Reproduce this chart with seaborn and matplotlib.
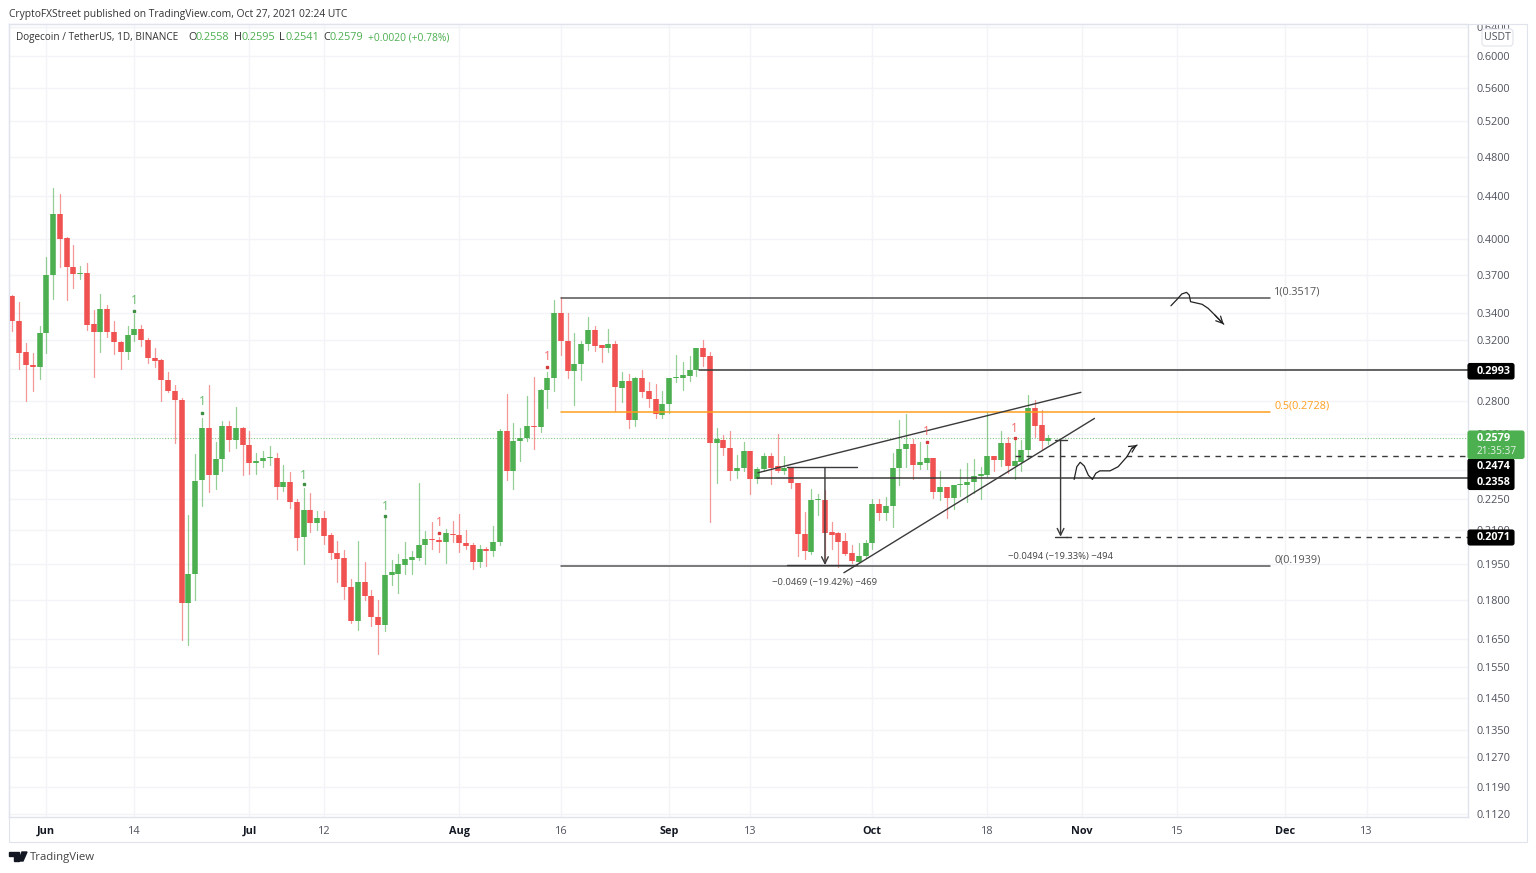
"""Dogecoin / TetherUS daily candles with a rising wedge, TradingView look."""

import matplotlib.pyplot as plt
import pandas as pd
import seaborn as sns
from matplotlib.patches import FancyBboxPatch, Polygon, Rectangle
from matplotlib.ticker import NullFormatter

W, H = 1536, 873
GREEN = "#4caf50"
RED = "#f05252"
DARK = "#3a3a3a"
GRID = "#f3f4f8"
BORDER = "#e0e3eb"
ORANGE = "#ff9f1c"
FONT = "Open Sans"

FIRST_DAY = "2021-05-27"
RIGHT_EDGE = 209.9

opens = [
    .3529, .3341, .3115, .3029, .3017, .3254, .3697, .4232, .4010, .3763,
    .3708, .3711, .3317, .3259, .3429, .3259, .3187, .3119, .3235, .3278,
    .3203, .3076, .3060, .2928, .2857, .2803, .1787, .1906, .2347, .2635,
    .2372, .2458, .2646, .2567, .2632, .2537, .2436, .2449, .2463, .2465,
    .2310, .2340, .2236, .2069, .2197, .2134, .2159, .2078, .1998, .1975,
    .1853, .1719, .1873, .1815, .1735, .1703, .1902, .1907, .1944, .1965,
    .1976, .2032, .2060, .2055, .2046, .2084, .2078, .2041, .2031, .1959,
    .2013, .2007, .2047, .2618, .2396, .2559, .2575, .2646, .2640, .2869,
    .2941, .3401, .3196, .2989, .3035, .3175, .3273, .3164, .3145, .3175,
    .2880, .2924, .2681, .2943, .2859, .2809, .2713, .2778, .2941, .2943,
    .2958, .2993, .3143, .3091, .2548, .2565, .2523, .2395, .2411, .2504,
    .2354, .2407, .2476, .2422, .2396, .2411, .2332, .2084, .2003, .2245,
    .2246, .2092, .2086, .2049, .1998, .1960, .1984, .2040, .2225, .2184,
    .2216, .2412, .2514, .2543, .2427, .2440, .2467, .2286, .2312, .2257,
    .2321, .2321, .2337, .2370, .2373, .2474, .2452, .2546, .2422, .2445,
    .2511, .2753, .2650, .2558,
]
highs = [
    .3535, .3480, .3180, .3108, .3302, .3850, .4486, .4424, .4024, .3954,
    .3772, .3797, .3421, .3547, .3457, .3337, .3194, .3302, .3391, .3309,
    .3213, .3143, .3073, .2982, .2897, .2814, .2174, .2485, .2693, .2897,
    .2555, .2675, .2675, .2757, .2640, .2615, .2492, .2504, .2530, .2490,
    .2425, .2388, .2249, .2306, .2280, .2191, .2191, .2089, .2049, .2010,
    .1884, .2052, .1960, .1841, .1800, .2167, .1965, .1995, .2045, .2006,
    .2332, .2096, .2137, .2070, .2106, .2143, .2177, .2101, .2040, .2031,
    .2022, .2120, .2626, .2840, .2665, .2634, .2828, .2950, .2873, .2984,
    .3498, .3519, .3401, .3249, .3194, .3366, .3302, .3166, .3280, .3196,
    .2980, .2967, .2947, .2997, .2919, .2902, .2859, .2945, .3096, .3047,
    .3089, .3147, .3199, .3115, .2634, .2596, .2618, .2481, .2552, .2504,
    .2418, .2491, .2491, .2601, .2476, .2411, .2332, .2187, .2303, .2274,
    .2296, .2140, .2093, .2090, .2032, .2040, .2055, .2252, .2249, .2262,
    .2491, .2681, .2719, .2571, .2552, .2537, .2467, .2395, .2312, .2322,
    .2404, .2436, .2458, .2418, .2729, .2476, .2616, .2580, .2565, .2565,
    .2834, .2803, .2741, .2595,
]
lows = [
    .3268, .3004, .2799, .2861, .2938, .3108, .3508, .3766, .3500, .3594,
    .3666, .3273, .2948, .3119, .3225, .3106, .3000, .3073, .3194, .3161,
    .3044, .3017, .2799, .2853, .2550, .1647, .1629, .1801, .2218, .2286,
    .2301, .2395, .2504, .2520, .2373, .2380, .2380, .2416, .2429, .2252,
    .2290, .2207, .2010, .1949, .2092, .2104, .2036, .1972, .1872, .1804,
    .1710, .1685, .1801, .1699, .1596, .1681, .1862, .1827, .1907, .1907,
    .1966, .1949, .2014, .2000, .1954, .2046, .2003, .2014, .1927, .1937,
    .1941, .1984, .2032, .2347, .2303, .2447, .2561, .2513, .2612, .2751,
    .2861, .3096, .2943, .2772, .2930, .3131, .3126, .3047, .3119, .2735,
    .2791, .2637, .2646, .2823, .2761, .2695, .2695, .2721, .2919, .2865,
    .2926, .2956, .3022, .2140, .2330, .2481, .2350, .2358, .2395, .2276,
    .2330, .2396, .2325, .2391, .2379, .2305, .1985, .1973, .1995, .2172,
    .1953, .2017, .1937, .1988, .1952, .1952, .1978, .2014, .2148, .2151,
    .2116, .2321, .2414, .2354, .2404, .2404, .2257, .2246, .2158, .2200,
    .2266, .2238, .2280, .2249, .2365, .2396, .2422, .2383, .2351, .2396,
    .2458, .2584, .2516, .2541,
]
closes = [
    .3341, .3112, .3026, .3015, .3254, .3697, .4232, .4007, .3763, .3708,
    .3714, .3309, .3257, .3429, .3259, .3185, .3119, .3237, .3278, .3201,
    .3076, .3057, .2932, .2857, .2803, .1787, .1906, .2343, .2635, .2372,
    .2458, .2646, .2567, .2632, .2537, .2436, .2449, .2463, .2468, .2310,
    .2340, .2235, .2066, .2197, .2134, .2159, .2075, .1998, .1972, .1852,
    .1719, .1873, .1815, .1733, .1703, .1902, .1915, .1948, .1969, .1979,
    .2033, .2060, .2054, .2047, .2086, .2077, .2040, .2029, .1959, .2013,
    .2007, .2047, .2618, .2396, .2559, .2575, .2646, .2640, .2869, .2941,
    .3401, .3196, .2989, .3035, .3175, .3273, .3161, .3145, .3175, .2884,
    .2924, .2681, .2945, .2854, .2807, .2717, .2778, .2945, .2947, .2962,
    .2993, .3143, .3085, .2548, .2569, .2523, .2393, .2411, .2504, .2354,
    .2407, .2476, .2411, .2396, .2412, .2332, .2083, .2007, .2245, .2250,
    .2089, .2079, .2046, .1994, .1962, .1985, .2040, .2225, .2182, .2216,
    .2411, .2514, .2541, .2427, .2442, .2467, .2286, .2311, .2257, .2322,
    .2326, .2340, .2368, .2377, .2474, .2452, .2546, .2422, .2447, .2511,
    .2753, .2648, .2558, .2579,
]

y_ticks = [
    0.64, 0.60, 0.56, 0.52, 0.48, 0.44, 0.40, 0.37, 0.34, 0.32, 0.30, 0.28,
    0.26, 0.24, 0.225, 0.21, 0.195, 0.18, 0.165, 0.155, 0.145, 0.135, 0.127,
    0.119, 0.112,
]
x_tick_dates = [
    "2021-06-01", "2021-06-14", "2021-07-01", "2021-07-12", "2021-08-01",
    "2021-08-16", "2021-09-01", "2021-09-13", "2021-10-01", "2021-10-18",
    "2021-11-01", "2021-11-15", "2021-12-01", "2021-12-13",
]
x_tick_labels = [
    "Jun", "14", "Jul", "12", "Aug", "16", "Sep", "13", "Oct", "18", "Nov",
    "15", "Dec", "13",
]

# Fibonacci levels and drawn support / resistance, in prices
fib_levels = [0.3517, 0.2728, 0.1939]
fib_labels = ["1(0.3517)", "0.5(0.2728)", "0(0.1939)"]
fib_colors = ["#555555", ORANGE, "#555555"]
last_price = 0.2579
level_2993 = 0.2993
level_2474 = 0.2474
level_2358 = 0.2358
level_2071 = 0.2071

# Wedge lines and hand drawn arrows as (day offset from Jun 1, price)
wedge_upper = [(105.1, 0.2386), (152.8, 0.2851)]
wedge_lower = [(117.8, 0.1912), (154.8, 0.2691)]
sketch_up = [
    (151.8, .2351), (152.2, .2418), (152.7, .2442), (153.3, .2422),
    (153.9, .2373), (154.5, .2351), (155.0, .2383), (155.6, .2396),
    (157.1, .2396), (158.3, .2418), (159.6, .2472), (160.3, .2518),
    (161.1, .2537),
]
sketch_down = [
    (166.1, .3454), (167.0, .3503), (167.7, .3545), (168.4, .3558),
    (168.8, .3537), (169.0, .3485), (169.7, .3477), (170.7, .3465),
    (171.6, .3434), (172.6, .3383), (173.9, .3315),
]

# TD sequential style "1" marks: day offset, price of the digit, price of the dot
green_marks = [(13, .3491, .3413), (23, .2793, .2726), (38, .2373, .2326), (50, .2216, .2169)]
red_marks = [(58, .2135, .2090), (74, .3089, .3017), (130, .2612, .2555), (143, .2634, .2579)]


def day(offset):
    return pd.Timestamp("2021-06-01") + pd.Timedelta(days=offset)


def fig_xy(x, y):
    """Pixel position in the reference, y going down, to figure fraction."""
    return x / W, 1 - y / H


def add_box(fig, x0, y0, x1, y1, color, edge=None, zorder=2, round_px=0):
    xy = fig_xy(x0, y1)
    w, h = (x1 - x0) / W, (y1 - y0) / H
    if round_px:
        patch = FancyBboxPatch(
            xy, w, h, boxstyle=f"round,pad=0,rounding_size={round_px / W}",
            facecolor=color, edgecolor=edge or color, linewidth=0.8,
            transform=fig.transFigure, zorder=zorder, mutation_aspect=W / H,
        )
    else:
        patch = Rectangle(
            xy, w, h, facecolor=color, edgecolor=edge or color, linewidth=0.8,
            transform=fig.transFigure, zorder=zorder,
        )
    fig.add_artist(patch)


def hline(ax, start, level, end, **kwargs):
    ax.plot([day(start), day(end)], [level, level], **kwargs)


def draw_candles(ax):
    dates = pd.date_range(FIRST_DAY, periods=len(opens), freq="D")
    candles = pd.DataFrame(
        {"date": dates, "open": opens, "high": highs, "low": lows, "close": closes}
    )
    candles["side"] = ["up" if c >= o else "down" for o, c in zip(opens, closes)]
    palette = {"up": GREEN, "down": RED}

    wicks = candles.melt(
        id_vars=["date", "side"], value_vars=["high", "low"], value_name="price"
    )
    bodies = candles.melt(
        id_vars=["date", "side"], value_vars=["open", "close"], value_name="price"
    )
    sns.lineplot(
        data=wicks, x="date", y="price", hue="side", units="date", estimator=None,
        palette=palette, linewidth=0.9, alpha=0.6, legend=False, ax=ax, zorder=2,
    )
    sns.lineplot(
        data=bodies, x="date", y="price", hue="side", units="date", estimator=None,
        palette=palette, linewidth=4.0, solid_capstyle="butt", legend=False, ax=ax,
        zorder=3,
    )


def draw_levels(ax):
    fib_start, fib_end = 76, 180.75
    for level, label, color in zip(fib_levels, fib_labels, fib_colors):
        hline(ax, fib_start, level, fib_end, color=color, lw=1.1, zorder=4)
        ax.annotate(
            label, xy=(day(fib_end), level), xytext=(4, 6), textcoords="offset pixels",
            color=color, fontsize=7.8, va="center", family=FONT,
        )
    ax.axhline(last_price, color=GREEN, lw=0.8, ls=(0, (1, 1.5)), alpha=0.7, zorder=1)
    hline(ax, 96.4, level_2993, RIGHT_EDGE, color=DARK, lw=1.1, zorder=4)
    hline(ax, 105, level_2358, RIGHT_EDGE, color=DARK, lw=1.1, zorder=4)
    hline(ax, 143, level_2474, RIGHT_EDGE, color=DARK, lw=1.0, ls=(0, (4, 4)), zorder=4)
    hline(ax, 150.6, level_2071, RIGHT_EDGE, color=DARK, lw=1.0, ls=(0, (4, 4)), zorder=4)

    for line in (wedge_upper, wedge_lower):
        ax.plot([day(p[0]) for p in line], [p[1] for p in line], color=DARK, lw=1.0, zorder=5)


def draw_measures(ax):
    measures = [
        (115, 0.2414, 0.1945, 109.4, 119.7, "\u22120.0469 (\u221219.42%) \u2212469", 0.1873),
        (149.8, 0.2565, 0.2071, 149.0, 150.8, "\u22120.0494 (\u221219.33%) \u2212494", 0.1983),
    ]
    for mid, top, bottom, left, right, label, label_price in measures:
        hline(ax, left, top, right, color=DARK, lw=1.0, zorder=5)
        hline(ax, left, bottom, right, color=DARK, lw=1.0, zorder=5)
        ax.annotate(
            "", xy=(day(mid), bottom), xytext=(day(mid), top), zorder=5,
            arrowprops=dict(arrowstyle="->", color=DARK, lw=1.0, shrinkA=0, shrinkB=0),
        )
        ax.text(
            day(mid), label_price, label, ha="center", va="center", fontsize=6.8,
            color="#444444", family=FONT,
        )


def draw_sketch(ax, points):
    xs = [day(p[0]) for p in points]
    ys = [p[1] for p in points]
    ax.plot(xs, ys, color="#222222", lw=0.9, zorder=5)
    ax.annotate(
        "", xy=(xs[-1], ys[-1]), xytext=(xs[-2], ys[-2]), zorder=5,
        arrowprops=dict(arrowstyle="->", color="#222222", lw=0.9, shrinkA=0, shrinkB=0),
    )


def draw_marks(ax):
    for marks, color, dot in ((green_marks, GREEN, "#3f8f43"), (red_marks, RED, "#d43c3c")):
        for offset, digit_price, dot_price in marks:
            ax.text(
                day(offset), digit_price, "1", color=color, alpha=0.85, fontsize=8.5,
                ha="center", va="center", family=FONT, zorder=6,
            )
            ax.plot(
                [day(offset)], [dot_price], marker="s", ms=1.5, color=dot, zorder=6,
                ls="none",
            )


def draw_chrome(fig):
    # top edge of the price scale cuts the first label
    add_box(fig, 1468, 12, 1527, 24, "white", zorder=1)
    add_box(fig, 9, 24, 1527, 842, "none", edge=BORDER, zorder=1)
    add_box(fig, 1482, 29, 1513, 46, "white", edge=BORDER, zorder=2, round_px=3)
    fig.text(*fig_xy(1497.5, 37.5), "USDT", ha="center", va="center", fontsize=7.6,
             color="#50535e", family=FONT, zorder=3)

    # price labels on the scale
    add_box(fig, 1468, 363.5, 1514, 379, "#000000", round_px=2)
    add_box(fig, 1468, 459, 1514, 489.5, "#000000", round_px=2)
    add_box(fig, 1468, 530, 1514, 545, "#000000", round_px=2)
    add_box(fig, 1468, 431, 1524, 458.5, GREEN, round_px=2, zorder=2.5)
    for text, y in (("0.2993", 371.5), ("0.2474", 466.5), ("0.2358", 482), ("0.2071", 538)):
        fig.text(*fig_xy(1476.5, y), text, color="white", fontsize=7.8, fontweight="bold",
                 va="center", family=FONT, zorder=3)
    fig.text(*fig_xy(1476.5, 438.5), "0.2579", color="white", fontsize=7.8, fontweight="bold",
             va="center", family=FONT, zorder=3)
    fig.text(*fig_xy(1476.5, 451.5), "21:35:37", color="#e4f4e5", fontsize=7.3,
             va="center", family=FONT, zorder=3)

    # header
    fig.text(*fig_xy(9, 14), "CryptoFXStreet published on TradingView.com, Oct 27, 2021 02:24 UTC",
             fontsize=7.4, color="#333333", va="center", family=FONT)
    fig.text(*fig_xy(16, 37.5), "Dogecoin / TetherUS, 1D, BINANCE", fontsize=7.2,
             color="#333333", va="center", family=FONT)
    legend_parts = [
        (188, "O", "#333333"), (196, "0.2558", GREEN), (234, "H", "#333333"),
        (241, "0.2595", GREEN), (279, "L", "#333333"), (286, "0.2541", GREEN),
        (323, "C", "#333333"), (330, "0.2579", GREEN), (368, "+0.0020 (+0.78%)", GREEN),
    ]
    for x, text, color in legend_parts:
        size = 7.4 if text.startswith("+") else 7.8
        fig.text(*fig_xy(x, 37.5), text, fontsize=size, color=color, va="center", family=FONT)

    # logo
    logo_t = [(9, 852), (19, 852), (19, 861), (14, 861), (14, 856), (9, 856)]
    logo_v = [(22, 852), (27, 852), (23, 861), (18.5, 861)]
    for shape in (logo_t, logo_v):
        fig.add_artist(Polygon([fig_xy(*p) for p in shape], closed=True, color="#131722",
                               transform=fig.transFigure))
    fig.text(*fig_xy(30, 857.5), "TradingView", fontsize=8.2, color="#444444", va="center",
             family=FONT)


def main():
    sns.set_theme(style="white")
    plt.rcParams["font.family"] = [FONT, "DejaVu Sans"]

    fig = plt.figure(figsize=(W / 100, H / 100), dpi=100, facecolor="white")
    x0, y1 = fig_xy(9, 817)
    ax = fig.add_axes([x0, y1, 1458.5 / W, 793 / H])
    ax.set_axisbelow(True)

    draw_candles(ax)
    ax.set_yscale("log")

    ax.yaxis.tick_right()
    ax.set_yticks(y_ticks)
    ax.set_yticklabels([f"{t:.4f}" for t in y_ticks])
    ax.yaxis.set_minor_formatter(NullFormatter())
    ax.tick_params(axis="y", which="minor", length=0)
    ax.tick_params(axis="y", length=0, pad=6.2, labelsize=7.8, labelcolor="#50535e")

    ax.set_xticks(pd.to_datetime(x_tick_dates))
    ax.set_xticklabels(x_tick_labels)
    ax.tick_params(axis="x", length=0, pad=6.5, labelsize=7.8, labelcolor="#50535e")
    for label, text in zip(ax.get_xticklabels(), x_tick_labels):
        if not text.isdigit():
            label.set_color("#131722")
            label.set_fontweight("bold")

    ax.grid(True, which="major", color=GRID, lw=1.0)
    ax.set_xlabel("")
    ax.set_ylabel("")
    for spine in ax.spines.values():
        spine.set_color(BORDER)
        spine.set_linewidth(1.0)

    draw_levels(ax)
    draw_measures(ax)
    draw_sketch(ax, sketch_up)
    draw_sketch(ax, sketch_down)
    draw_marks(ax)
    ax.set_xlim(day(-5.51), day(RIGHT_EDGE))
    ax.set_ylim(0.1113, 0.6447)

    draw_chrome(fig)
    fig.savefig("out.png", dpi=100)
    plt.close(fig)


if __name__ == "__main__":
    main()
